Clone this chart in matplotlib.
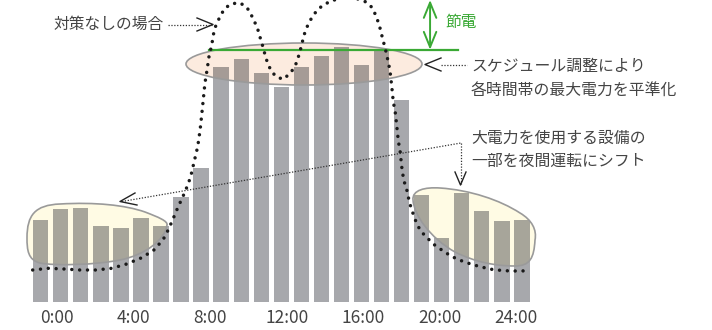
import numpy as np
import matplotlib

matplotlib.use('Agg')
import matplotlib.pyplot as plt  # noqa: E402
from matplotlib.colors import to_rgb  # noqa: E402
from matplotlib.patches import Ellipse, PathPatch  # noqa: E402
from matplotlib.path import Path  # noqa: E402
from matplotlib.transforms import Affine2D  # noqa: E402

plt.rcParams['font.family'] = ['Noto Sans CJK JP', 'DejaVu Sans']

W, H = 712, 330

# hourly demand after scheduling (bars)
hours = np.arange(25)
demand = [82, 93, 94, 76, 74, 84, 76, 105, 134, 235, 243, 229, 215, 235,
          246, 255, 237, 252, 202, 107, 64, 109, 91, 81, 82]

# demand without measures (dotted curve)
curve_hours = [-0.40, 0.38, 1.16, 1.96, 2.76, 3.54, 4.29, 5.04, 5.70, 6.20,
               6.53, 6.85, 7.03, 7.20, 7.35, 7.48, 7.65, 7.83, 7.95, 8.03,
               8.11, 8.19, 8.31, 8.39, 8.53, 8.66, 8.81, 8.98, 9.19, 9.49,
               9.89, 10.22, 10.44, 10.60, 10.77, 10.89, 10.99, 11.10, 11.19, 11.32,
               11.49, 11.74, 12.10, 12.40, 12.63, 12.80, 12.90, 13.02, 13.10, 13.23,
               13.38, 13.57, 13.80, 14.09, 14.46, 15.23, 16.01, 16.29, 16.56, 16.72,
               16.87, 16.97, 17.06, 17.17, 17.26, 17.34, 17.42, 17.51, 17.59, 17.67,
               17.76, 17.84, 17.92, 18.00, 18.05, 18.13, 18.25, 18.33, 18.42, 18.55,
               18.67, 18.83, 19.03, 19.30, 19.58, 19.88, 20.20, 20.53, 20.88, 21.25,
               21.61, 22.00, 22.37, 22.77, 23.16, 23.57, 23.94, 24.32]
curve_values = [31.7, 33.4, 32.7, 31.7, 31.7, 33.4, 37.7, 44.0, 52.4, 65.0,
                79.4, 94.7, 102.4, 110.0, 117.7, 125.0, 139.7, 155.0, 171.7, 186.7,
                202.4, 218.4, 233.4, 244.7, 256.7, 272.4, 279.4, 286.7, 293.4, 297.7,
                299.0, 295.7, 289.7, 282.4, 275.7, 268.4, 260.7, 254.0, 246.7, 238.4,
                231.0, 225.0, 222.4, 227.7, 233.4, 241.0, 248.4, 256.7, 264.4, 272.4,
                279.0, 285.7, 291.7, 296.7, 300.4, 305.7, 301.7, 299.0, 293.4, 285.7,
                277.7, 270.0, 262.4, 254.4, 246.7, 239.0, 231.0, 215.0, 199.0, 191.7,
                175.7, 160.0, 151.7, 136.0, 128.4, 120.0, 112.7, 105.0, 97.4, 89.4,
                82.4, 75.0, 69.0, 63.4, 57.7, 53.4, 49.0, 45.0, 41.7, 39.0,
                36.7, 34.7, 32.7, 31.7, 31.0, 30.7, 30.7, 31.0]

peak_level = 252
tick_labels = ['0:00', '4:00', '8:00', '12:00', '16:00', '20:00', '24:00']
tick_pos = [0.80, 4.62, 8.46, 12.29, 16.10, 19.90, 23.71]

bar_color = '#a7a8ac'
salmon = '#fcebdf'
cream = '#fffbe4'
green = '#3aa935'
text_color = '#444444'
line_color = '#333333'

fig = plt.figure(figsize=(W / 100, H / 100), dpi=100)
base_y = 301.7
ax = fig.add_axes([0, (H - base_y) / H, 1, base_y / H])
ax.set_xlim(-40.7 / 20.05, (W - 40.7) / 20.05)
ax.set_ylim(0, base_y)
for spine in ax.spines.values():
    spine.set_visible(False)
ax.set_yticks([])
ax.set_xticks(tick_pos, labels=tick_labels)
ax.tick_params(axis='x', length=0, pad=5, labelsize=12.5, labelcolor=text_color)

# pixel coordinates (y down) for annotation shapes
pix = Affine2D().scale(1 / W, -1 / H).translate(0, 1) + fig.transFigure


def blob(points):
    verts = [points[0]]
    codes = [Path.MOVETO]
    for i in range(1, len(points), 3):
        verts += points[i:i + 3]
        codes += [Path.CURVE4] * 3
    return Path(verts, codes)


left_blob = blob([(27, 238), (27, 215), (35, 205), (60, 204),
                  (95, 202), (125, 205), (145, 212),
                  (158, 217), (168, 221), (167, 225),
                  (165, 240), (145, 255), (120, 260),
                  (95, 265), (55, 266), (40, 263),
                  (28, 260), (27, 250), (27, 238)])
right_blob = blob([(413, 200), (412, 190), (425, 187), (440, 188),
                   (470, 190), (500, 200), (520, 213),
                   (532, 220), (537, 230), (535, 240),
                   (534, 258), (530, 266), (515, 266),
                   (495, 266), (475, 262), (455, 252),
                   (430, 238), (414, 215), (413, 200)])

fills = [
    (PathPatch(left_blob, transform=pix), cream),
    (PathPatch(right_blob, transform=pix), cream),
    (Ellipse((304, 64), 236, 42, transform=pix), salmon),
]

ax.bar(hours, demand, width=0.765, color=bar_color, zorder=2)

for patch, colour in fills:
    patch.set_facecolor(colour)
    patch.set_edgecolor('none')
    patch.set_zorder(1)
    ax.add_patch(patch)
    tint = tuple(np.multiply(to_rgb(bar_color), to_rgb(colour)))
    tinted = ax.bar(hours, demand, width=0.765, color=tint, zorder=3)
    for rect in tinted:
        rect.set_clip_path(patch)

for path in (left_blob, right_blob):
    ax.add_patch(PathPatch(path, transform=pix, facecolor='none',
                           edgecolor='#9a9a9a', lw=1.2, zorder=4))
ax.add_patch(Ellipse((304, 64), 236, 42, transform=pix, facecolor='none',
                     edgecolor='#9a9a9a', lw=1.2, zorder=4))

# curve without measures
ax.plot(curve_hours, curve_values, color='#1a1a1a', lw=2.5,
        linestyle=(0, (0.01, 2.25)), dash_capstyle='round', zorder=6)

# power saving: green cap line and arrow
ax.plot([8.40, 20.83], [peak_level, peak_level], color=green, lw=1.6, zorder=5)
ax.annotate('', xy=(19.42, peak_level), xytext=(19.42, base_y),
            arrowprops=dict(arrowstyle='<->,head_length=1.1,head_width=0.45',
                            color=green, lw=1.4, shrinkA=0, shrinkB=0,
                            mutation_scale=10),
            annotation_clip=False, zorder=5)
ax.text(445, 22, '節電', transform=pix, color=green, fontsize=11.3,
        ha='left', va='center')


def dotted(xs, ys):
    ax.plot(xs, ys, transform=pix, color=line_color, lw=0.9,
            linestyle=(0, (1, 1.3)), clip_on=False, zorder=7)


def chevron(xs, ys):
    ax.plot(xs, ys, transform=pix, color='#222222', lw=1.0,
            clip_on=False, zorder=7)


# labels and pointers
ax.text(54, 24, '対策なしの場合', transform=pix, color=text_color,
        fontsize=11.3, ha='left', va='center')
dotted([168, 212], [24.5, 24.5])
chevron([197, 213, 197], [18, 24.5, 31])

dotted([441, 467], [64.5, 64.5])
chevron([441, 425, 441], [58, 64.5, 71])
ax.text(471, 66, 'スケジュール調整により', transform=pix, color=text_color,
        fontsize=11.4, ha='left', va='center')
ax.text(471, 90, '各時間帯の最大電力を平準化', transform=pix, color=text_color,
        fontsize=11.4, ha='left', va='center')

dotted([122, 461], [201.5, 143])
dotted([461, 461], [143, 184])
chevron([135, 120, 137], [193, 201.5, 205])
chevron([455, 460.5, 466], [172, 185, 172])
ax.text(471, 138, '大電力を使用する設備の', transform=pix, color=text_color,
        fontsize=11.4, ha='left', va='center')
ax.text(471, 161, '一部を夜間運転にシフト', transform=pix, color=text_color,
        fontsize=11.4, ha='left', va='center')

fig.savefig('out.png', dpi=100)
plt.close(fig)
